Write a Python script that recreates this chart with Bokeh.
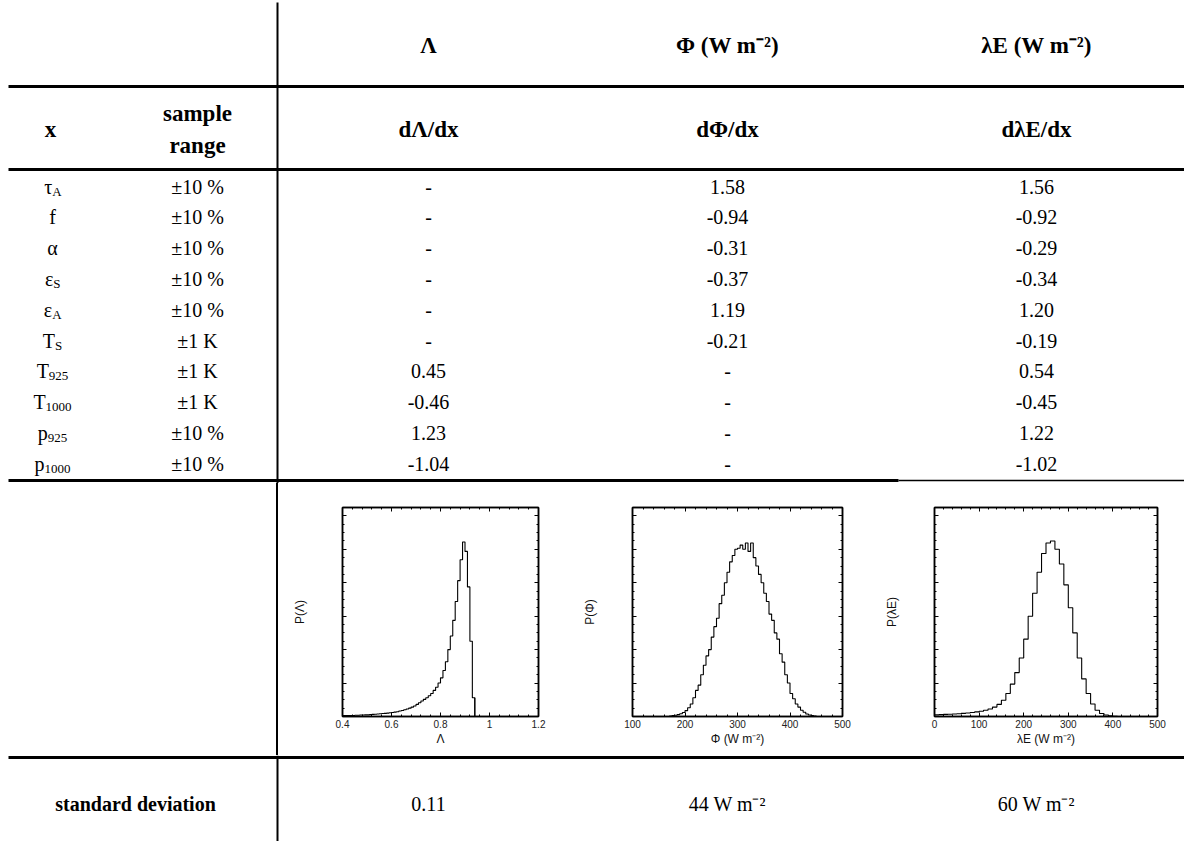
from bokeh.plotting import figure
from bokeh.layouts import column, row
from bokeh.models import (Range1d, LinearAxis, FixedTicker, NumeralTickFormatter,
                          CustomLabelingPolicy, Div, Spacer)
from bokeh.core.properties import value
from bokeh.embed import file_html
from bokeh.resources import INLINE

# ---------------- data ----------------
col_headers = ["Λ", "Φ (W m⁻²)", "λE (W m⁻²)"]
deriv_headers = ["dΛ/dx", "dΦ/dx", "dλE/dx"]
param_base = ["τ", "f", "α", "ε", "ε", "T", "T", "T", "p", "p"]
param_sub = ["A", "", "", "S", "A", "S", "925", "1000", "925", "1000"]
sample_range = ["±10 %", "±10 %", "±10 %", "±10 %", "±10 %", "±1 K", "±1 K", "±1 K", "±10 %", "±10 %"]
dLam = [None, None, None, None, None, None, 0.45, -0.46, 1.23, -1.04]
dPhi = [1.58, -0.94, -0.31, -0.37, 1.19, -0.21, None, None, None, None]
dLE = [1.56, -0.92, -0.29, -0.34, 1.20, -0.19, 0.54, -0.45, 1.22, -1.02]
std_label = "standard deviation"
std_values = ["0.11", "44 W m⁻²", "60 W m⁻²"]

# histograms (relative frequency)
lam_bin_start, lam_bin_w = 0.40, 0.01
lam_p = [0.004, 0.004, 0.005, 0.005, 0.005, 0.006, 0.006, 0.007, 0.007, 0.008,
         0.008, 0.009, 0.010, 0.011, 0.012, 0.013, 0.014, 0.015, 0.016, 0.018,
         0.019, 0.021, 0.023, 0.026, 0.029, 0.032, 0.036, 0.040, 0.045, 0.050,
         0.058, 0.066, 0.074, 0.082, 0.090, 0.099, 0.110, 0.125, 0.140, 0.160,
         0.185, 0.220, 0.262, 0.320, 0.385, 0.460, 0.550, 0.650, 0.750, 0.835,
         0.790, 0.620, 0.360, 0.090]
phi_bin_start, phi_bin_w = 170, 5
phi_p = [0.002, 0.004, 0.006, 0.009, 0.013, 0.019, 0.028, 0.042, 0.060, 0.090,
         0.125, 0.150, 0.200, 0.245, 0.290, 0.320, 0.380, 0.430, 0.470, 0.540,
         0.580, 0.640, 0.690, 0.740, 0.770, 0.800, 0.805, 0.820, 0.800, 0.830,
         0.790, 0.830, 0.760, 0.720, 0.680, 0.640, 0.590, 0.550, 0.490, 0.460,
         0.400, 0.370, 0.300, 0.260, 0.200, 0.160, 0.110, 0.085, 0.060, 0.045,
         0.030, 0.020, 0.012, 0.007, 0.004, 0.002]
le_bin_start, le_bin_w = 0, 10
le_p = [0.008, 0.009, 0.010, 0.011, 0.012, 0.013, 0.015, 0.017, 0.019, 0.022,
        0.025, 0.030, 0.036, 0.045, 0.058, 0.078, 0.110, 0.155, 0.210, 0.280,
        0.370, 0.480, 0.590, 0.690, 0.780, 0.830, 0.840, 0.800, 0.730, 0.630,
        0.520, 0.400, 0.280, 0.180, 0.110, 0.060, 0.030, 0.014, 0.007, 0.003,
        0.001]

# ---------------- layout constants ----------------
W = 1184
TOP_H, MID_H, BOT_H = 483, 272, 86
SERIF = value("Liberation Serif")
SANS = "Liberation Sans"
COLX = [428, 727, 1036]
VLINE_X = 277
HEAD_FS = 23
BODY_FS = 20
SUB_FS = 13


def table_fig(width, height, x0, y0):
    p = figure(width=width, height=height, x_range=Range1d(x0, x0 + width),
               y_range=Range1d(y0 + height, y0), x_axis_type=None, y_axis_type=None,
               output_backend="svg", toolbar_location=None, min_border=0, margin=0)
    p.grid.visible = False
    p.outline_line_color = None
    return p


def txt(p, x, y, s, size, bold=False, align="center"):
    p.text(x=[x], y=[y], text=[s], text_align=align, text_baseline="middle",
           text_font=SERIF, text_font_size=f"{size}px",
           text_font_style="bold" if bold else "normal", text_color="black")


# ---------------- top part ----------------
top = table_fig(W, TOP_H, 0, 0)
top.segment(x0=[VLINE_X], y0=[2], x1=[VLINE_X], y1=[TOP_H], line_color="black", line_width=2)
top.segment(x0=[8, 8, 8], y0=[86, 169, 480], x1=[W, W, 898], y1=[86, 169, 480],
            line_color="black", line_width=3)
top.segment(x0=[898], y0=[480], x1=[W], y1=[480], line_color="black", line_width=1.5)

for cx, h in zip(COLX, col_headers):
    txt(top, cx, 45, h, HEAD_FS, bold=True)
for cx, h in zip(COLX, deriv_headers):
    txt(top, cx, 129, h, HEAD_FS, bold=True)
txt(top, 50, 129, "x", HEAD_FS, bold=True)
txt(top, 197, 113, "sample", HEAD_FS, bold=True)
txt(top, 197, 145, "range", HEAD_FS, bold=True)

base_w = {"τ": 0.44, "f": 0.333, "α": 0.52, "ε": 0.44, "T": 0.611, "p": 0.5}
sub_cw = {"A": 0.722, "S": 0.556}
row_y0, row_dy = 186, 30.8


def fmt(v):
    return "-" if v is None else f"{v:.2f}"


for i in range(len(param_base)):
    y = row_y0 + i * row_dy
    b, s = param_base[i], param_sub[i]
    wb = base_w[b] * BODY_FS
    ws = sum(sub_cw.get(c, 0.5) for c in s) * SUB_FS
    anchor = 52 + (wb - ws) / 2
    txt(top, anchor, y, b, BODY_FS, align="right")
    if s:
        txt(top, anchor, y + 5, s, SUB_FS, align="left")
    txt(top, 197, y, sample_range[i], BODY_FS)
    txt(top, COLX[0], y, fmt(dLam[i]), BODY_FS)
    txt(top, COLX[1], y, fmt(dPhi[i]), BODY_FS)
    txt(top, COLX[2], y, fmt(dLE[i]), BODY_FS)

# ---------------- middle part ----------------
sp1 = Spacer(width=VLINE_X - 1, height=MID_H, margin=0)
vline = Div(text="", width=2, height=MID_H, margin=0,
            styles={"background-color": "black", "padding": "0", "margin": "0"})
sp2 = Spacer(width=290 - VLINE_X - 1, height=MID_H, margin=0)

yticks = [0.16 * k for k in range(7)]
yminor = [0.04 * k for k in range(26)]


def style_axis(ax, show_labels):
    ax.major_tick_in = 4
    ax.major_tick_out = 0
    ax.minor_tick_in = 2
    ax.minor_tick_out = 0
    ax.axis_line_width = 1.5
    ax.axis_line_color = "black"
    ax.major_tick_line_color = "black"
    ax.minor_tick_line_color = "black"
    ax.major_label_text_font = SANS
    ax.major_label_text_font_size = "10px"
    ax.major_label_text_color = "#222222"
    ax.axis_label_text_font = SANS
    ax.axis_label_text_font_style = "normal"
    ax.axis_label_text_color = "#111111"
    if show_labels:
        ax.major_label_standoff = 3
    else:
        ax.major_label_standoff = 0
        ax.major_label_policy = CustomLabelingPolicy(code="return new Set()")


def hist_fig(width, bl, br, xr, xticks, xminor, xlabel, ylabel,
             bin_start, bin_w, vals, numfmt):
    p = figure(width=width, height=MID_H, x_range=Range1d(*xr), y_range=Range1d(0, 1),
               output_backend="svg", toolbar_location=None, margin=0,
               min_border_left=bl, min_border_right=br, min_border_top=24, min_border_bottom=39)
    p.grid.visible = False
    p.outline_line_color = "black"
    p.outline_line_width = 1.5
    xa = p.xaxis[0]
    xa.ticker = FixedTicker(ticks=xticks, minor_ticks=xminor)
    xa.formatter = NumeralTickFormatter(format=numfmt)
    style_axis(xa, True)
    xa.axis_label = xlabel
    xa.axis_label_text_font_size = "12px"
    xa.axis_label_standoff = 1
    ya = p.yaxis[0]
    ya.ticker = FixedTicker(ticks=yticks, minor_ticks=yminor)
    style_axis(ya, False)
    ya.axis_label = ylabel
    ya.axis_label_text_font_size = "12px"
    ya.axis_label_standoff = 13
    ta = LinearAxis(ticker=FixedTicker(ticks=xticks, minor_ticks=xminor))
    style_axis(ta, False)
    p.add_layout(ta, "above")
    ra = LinearAxis(ticker=FixedTicker(ticks=yticks, minor_ticks=yminor))
    style_axis(ra, False)
    p.add_layout(ra, "right")
    n = len(vals)
    edges = [bin_start + k * bin_w for k in range(n + 1)]
    ys = list(vals) + [0.0]
    p.step(x=edges, y=ys, mode="after", line_color="black", line_width=1.1)
    p.segment(x0=[edges[-1]], y0=[0], x1=[edges[-1]], y1=[vals[-1]], line_color="black", line_width=1.1)
    return p


h_lam = hist_fig(290, 41, 42, (0.4, 1.2), [0.4, 0.6, 0.8, 1.0, 1.2],
                 [0.4 + 0.04 * k for k in range(21)], "Λ", "P(Λ)",
                 lam_bin_start, lam_bin_w, lam_p, "0.[0]")
h_phi = hist_fig(300, 49, 38, (100, 500), [100, 200, 300, 400, 500],
                 [100 + 20 * k for k in range(21)], "Φ (W m⁻²)", "P(Φ)",
                 phi_bin_start, phi_bin_w, phi_p, "0")
h_le = hist_fig(304, 54, 27, (0, 500), [0, 100, 200, 300, 400, 500],
                [20 * k for k in range(26)], "λE (W m⁻²)", "P(λE)",
                le_bin_start, le_bin_w, le_p, "0")

middle = row(sp1, vline, sp2, h_lam, h_phi, h_le, spacing=0, margin=0)

# ---------------- bottom part ----------------
bot = table_fig(W, BOT_H, 0, TOP_H + MID_H)
bot.segment(x0=[VLINE_X], y0=[TOP_H + MID_H], x1=[VLINE_X], y1=[841], line_color="black", line_width=2)
bot.segment(x0=[8], y0=[757], x1=[W], y1=[757], line_color="black", line_width=3)
txt(bot, 135, 803, std_label, BODY_FS, bold=True)
for cx, s in zip(COLX, std_values):
    txt(bot, cx, 803, s, BODY_FS)

layout = column(top, middle, bot, spacing=0, margin=0)

open("out.html", "w").write(file_html(layout, INLINE))
